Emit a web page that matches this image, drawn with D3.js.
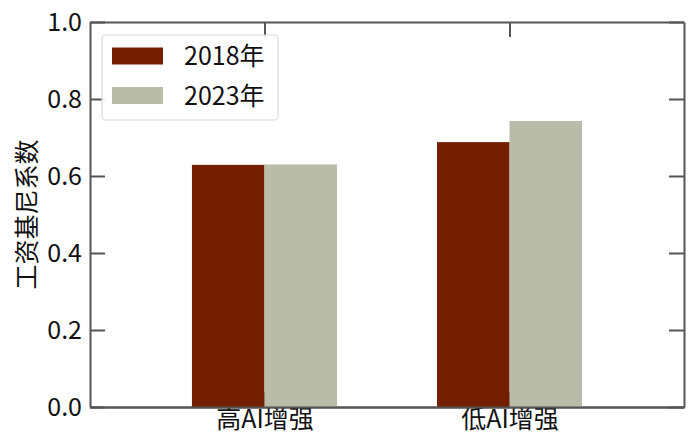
<!DOCTYPE html>
<html><head><meta charset="utf-8">
<script src="https://cdn.jsdelivr.net/npm/d3@7"></script>
<style>body{margin:0;background:#fff}svg{display:block}text{font-family:"Noto Sans CJK SC","Noto Sans",sans-serif;fill:#111}</style>
</head><body><svg id="c" width="700" height="445"></svg>
<script>
const categories = ["高AI增强", "低AI增强"];
const seriesNames = ["2018年", "2023年"];
const values2018 = [0.629, 0.688];
const values2023 = [0.630, 0.743];
const yTicks = [0.0, 0.2, 0.4, 0.6, 0.8, 1.0];
const colors = ["#731f00", "#b9bca8"];
const yLabel = "工资基尼系数";

const svg = d3.select("#c");
const L = 90, R = 684, T = 22, B = 407;
const x = d3.scalePoint().domain(categories).range([L, R]).padding(0.712);
const y = d3.scaleLinear().domain([0, 1]).range([B, T]);
const step = x.step();
const bw = 0.296 * step;
const series = [values2018, values2023];

const tk = 15, axisColor = "#555";
const fs = 25;
const axLeft = d3.axisLeft(y).tickValues(yTicks).tickFormat(d3.format(".1f")).tickSizeInner(-tk).tickSizeOuter(0).tickPadding(8);
const axRight = d3.axisRight(y).tickValues(yTicks).tickFormat("").tickSizeInner(-tk).tickSizeOuter(0);
const axBottom = d3.axisBottom(x).tickSizeInner(-tk).tickSizeOuter(0).tickPadding(6);
const axTop = d3.axisTop(x).tickFormat("").tickSizeInner(-tk).tickSizeOuter(0);

function style(sel){
  sel.selectAll("path").attr("stroke", axisColor).attr("stroke-width", 2);
  sel.selectAll("line").attr("stroke", axisColor).attr("stroke-width", 2);
  sel.selectAll("text").attr("font-size", fs).attr("fill", "#111")
     .style("font-family", '"Noto Sans CJK SC","Noto Sans",sans-serif');
}

// bottom ticks drawn first (behind bars)
const gb = svg.append("g").attr("transform", `translate(0,${B})`).call(axBottom); style(gb);
gb.selectAll("text").attr("dy", "0.6em");

const g = svg.append("g");
series.forEach((vals, si) => {
  g.selectAll(null).data(categories).enter().append("rect")
    .attr("x", c => x(c) + (si === 0 ? -bw : 0))
    .attr("width", bw)
    .attr("y", (c, i) => y(vals[i]))
    .attr("height", (c, i) => y(0) - y(vals[i]))
    .attr("fill", colors[si]);
});
// redraw bottom spine on top of bars
svg.append("g").attr("transform", `translate(0,${B})`)
  .call(d3.axisBottom(x).tickSize(0).tickFormat("")).call(style);

const gl = svg.append("g").attr("transform", `translate(${L},0)`).call(axLeft); style(gl);
const gr = svg.append("g").attr("transform", `translate(${R},0)`).call(axRight); style(gr);
const gt = svg.append("g").attr("transform", `translate(0,${T})`).call(axTop); style(gt);

svg.append("text")
  .attr("transform", `translate(36,${(T + B) / 2}) rotate(-90)`)
  .attr("text-anchor", "middle")
  .attr("font-size", fs)
  .text(yLabel);

const lg = svg.append("g");
lg.append("rect").attr("x", 102).attr("y", 35).attr("width", 176).attr("height", 85)
  .attr("rx", 4).attr("fill", "#fff").attr("fill-opacity", 0.85)
  .attr("stroke", "#d9d9d9").attr("stroke-width", 1.2);
seriesNames.forEach((n, i) => {
  const cy = 56 + i * 39.5;
  lg.append("rect").attr("x", 112).attr("y", cy - 8.5).attr("width", 51).attr("height", 17).attr("fill", colors[i]);
  lg.append("text").attr("x", 184).attr("y", cy).attr("dy", "0.36em").attr("font-size", fs).text(n);
});
</script></body></html>
